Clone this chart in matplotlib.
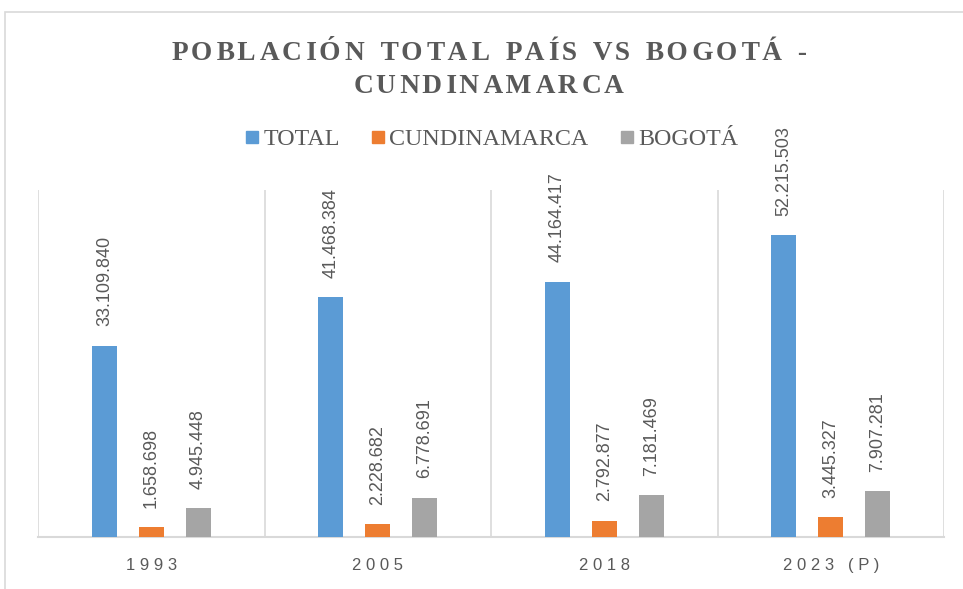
import matplotlib
matplotlib.use("Agg")
import matplotlib.pyplot as plt
import numpy as np
from matplotlib.lines import Line2D
from matplotlib.patches import Rectangle

categories = ["1993", "2005", "2018", "2023 (P)"]
series_names = ["TOTAL", "CUNDINAMARCA", "BOGOTÁ"]
total = [33109840, 41468384, 44164417, 52215503]
cundinamarca = [1658698, 2228682, 2792877, 3445327]
bogota = [4945448, 6778691, 7181469, 7907281]
colors = ["#5B9BD5", "#ED7D31", "#A5A5A5"]
title_lines = ["POBLACIÓN TOTAL PAÍS VS BOGOTÁ -", "CUNDINAMARCA"]

W, H = 963, 589
fig = plt.figure(figsize=(W / 100, H / 100), dpi=100)
fig.patch.set_facecolor("white")

# outer chart border (cropped on right and bottom)
fig.add_artist(Rectangle((5 / W, -0.2), 2.0, 1.2 - 12 / H, transform=fig.transFigure,
                         fill=False, edgecolor="#D9D9D9", linewidth=1.2, clip_on=False))

ax = fig.add_axes([38 / W, (H - 537) / H, (944 - 38) / W, (537 - 190) / H])

x = np.arange(len(categories))
width = 0.11
offsets = [-0.207, 0.0, 0.207]
text_gray = "#595959"

def fmt(v):
    return f"{v:,}".replace(",", ".")

for vals, off, c, name in zip([total, cundinamarca, bogota], offsets, colors, series_names):
    bars = ax.bar(x + off, vals, width, color=c, label=name, zorder=3)
    ax.bar_label(bars, labels=[fmt(v) for v in vals], padding=14, rotation=90,
                 fontsize=13, color=text_gray, family="Liberation Sans")

ax.set_xlim(-0.5, len(categories) - 0.5)
ax.set_ylim(0, 60000000)
ax.set_yticks([])
ax.set_xticks(x)
ax.set_xticklabels([" ".join(c) for c in categories], fontsize=12,
                   color=text_gray, family="Liberation Sans")
ax.tick_params(axis="x", length=0, pad=15)
for b in np.arange(-0.5, len(categories), 1.0):
    ax.axvline(b, color="#D9D9D9", linewidth=1.2, zorder=1)
for s in ["top", "left", "right"]:
    ax.spines[s].set_visible(False)
ax.spines["bottom"].set_color("#D9D9D9")
ax.spines["bottom"].set_linewidth(1.5)

# title with letter spacing (hair spaces between letters)
HS = "\u200a"
def spaced(line):
    words = []
    for w in line.split(" "):
        s = ""
        for i, ch in enumerate(w):
            s += ch
            if i < len(w) - 1:
                s += HS * (1 + (i % 2))
        words.append(s)
    return (HS * 2 + " " + HS * 2).join(words)

baselines = [60, 93]
for line, yb in zip(title_lines, baselines):
    fig.text(489 / W, 1 - yb / H, spaced(line), ha="center", va="baseline",
             fontsize=19.7, fontweight="bold", family="Liberation Serif", color=text_gray)

handles = [Line2D([], [], marker="s", linestyle="none", markersize=8, color=c) for c in colors]
fig.legend(handles, series_names, loc="center", bbox_to_anchor=(492 / W, 1 - 139.5 / H),
           ncol=3, frameon=False, prop={"family": "Liberation Serif", "size": 17.3},
           labelcolor=text_gray, handlelength=0.5, handletextpad=0.23, columnspacing=1.33,
           borderaxespad=0, borderpad=0)

fig.savefig("out.png", dpi=100)
